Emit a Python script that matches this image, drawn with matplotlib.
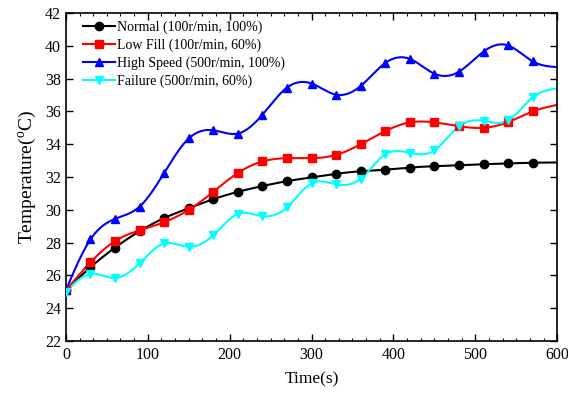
import numpy as np
import matplotlib
matplotlib.use("Agg")
import matplotlib.pyplot as plt
from matplotlib.ticker import MultipleLocator, AutoMinorLocator

# time points (s), one every 30 s
time_s = np.arange(0, 601, 30)

normal = [25.1, 26.5, 27.7, 28.7, 29.5, 30.1, 30.65, 31.1, 31.45, 31.75, 31.98,
          32.2, 32.35, 32.45, 32.58, 32.66, 32.72, 32.78, 32.83, 32.87, 32.89]
low_fill = [25.1, 26.8, 28.1, 28.75, 29.25, 30.0, 31.1, 32.25, 32.95, 33.15, 33.15,
            33.35, 34.0, 34.8, 35.33, 35.33, 35.1, 35.0, 35.35, 36.0, 36.4]
high_speed = [25.1, 28.2, 29.45, 30.2, 32.25, 34.35, 34.85, 34.65, 35.8, 37.45, 37.7,
              37.02, 37.55, 38.95, 39.2, 38.3, 38.42, 39.65, 40.02, 39.05, 38.7]
failure = [25.0, 26.1, 25.85, 26.75, 27.95, 27.75, 28.45, 29.75, 29.62, 30.15, 31.62,
           31.55, 31.9, 33.38, 33.48, 33.62, 35.1, 35.42, 35.45, 36.85, 37.4]

labels = ["Normal (100r/min, 100%)", "Low Fill (100r/min, 60%)",
          "High Speed (500r/min, 100%)", "Failure (500r/min, 60%)"]
colors = ["black", "red", "blue", "cyan"]
markers = ["o", "s", "^", "v"]


def spline(x, y, n=600):
    # natural cubic spline, used only to draw the smooth connecting line
    x = np.asarray(x, float)
    y = np.asarray(y, float)
    h = np.diff(x)
    m = len(x)
    A = np.zeros((m, m))
    b = np.zeros(m)
    A[0, 0] = A[-1, -1] = 1
    for i in range(1, m - 1):
        A[i, i - 1] = h[i - 1]
        A[i, i] = 2 * (h[i - 1] + h[i])
        A[i, i + 1] = h[i]
        b[i] = 6 * ((y[i + 1] - y[i]) / h[i] - (y[i] - y[i - 1]) / h[i - 1])
    M = np.linalg.solve(A, b)
    xs = np.linspace(x[0], x[-1], n)
    idx = np.clip(np.searchsorted(x, xs) - 1, 0, m - 2)
    x0, x1 = x[idx], x[idx + 1]
    hh = x1 - x0
    t0 = x1 - xs
    t1 = xs - x0
    ys = (M[idx] * t0 ** 3 + M[idx + 1] * t1 ** 3) / (6 * hh) \
        + (y[idx] / hh - M[idx] * hh / 6) * t0 + (y[idx + 1] / hh - M[idx + 1] * hh / 6) * t1
    return xs, ys


plt.rcParams["font.family"] = ["Liberation Serif", "DejaVu Serif"]
plt.rcParams["mathtext.fontset"] = "custom"
plt.rcParams["mathtext.rm"] = "Liberation Serif"

fig = plt.figure(figsize=(5.68, 3.93), dpi=100)
ax = fig.add_axes([0.116, 0.132, 0.865, 0.835])

for series, lab, c, mk in zip([normal, low_fill, high_speed, failure], labels, colors, markers):
    xs, ys = spline(time_s, series)
    ax.plot(xs, ys, color=c, lw=1.5, zorder=2)
    ax.plot(time_s[:-1], series[:-1], ls="none", marker=mk, color=c, ms=6, zorder=3)
    ax.plot([], [], color=c, lw=1.5, marker=mk, ms=6, label=lab)

ax.set_xlim(0, 600)
ax.set_ylim(22, 42)
ax.xaxis.set_major_locator(MultipleLocator(100))
ax.xaxis.set_minor_locator(AutoMinorLocator(6))
ax.yaxis.set_major_locator(MultipleLocator(2))
ax.tick_params(which="both", direction="in", top=True, right=True, labelsize=11.5)
ax.tick_params(which="major", length=5, width=1)
ax.tick_params(which="minor", length=2.5, width=0.8)
ax.tick_params(axis="y", which="minor", left=False, right=False)
ax.tick_params(axis="x", pad=4)
for s in ax.spines.values():
    s.set_linewidth(1.2)

ax.set_xlabel("Time(s)", fontsize=12.5, labelpad=6)
ax.set_ylabel("Temperature($^{\\rm o}$C)", fontsize=14, labelpad=4)

ax.legend(loc="upper left", bbox_to_anchor=(0.023, 0.994), frameon=False, fontsize=10,
          handlelength=2.3, labelspacing=0.32, handletextpad=0.2, borderaxespad=0)

fig.savefig("out.png", dpi=100)
